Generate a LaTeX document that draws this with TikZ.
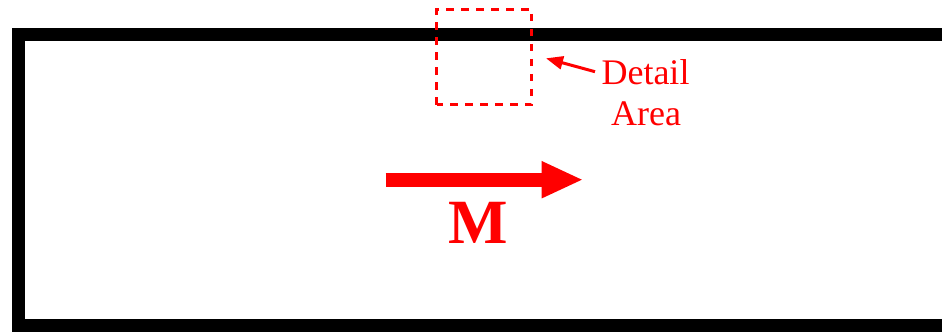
\documentclass[tikz,border=0pt]{standalone}
\usepackage{fontspec}
\setmainfont{Liberation Serif}
\usetikzlibrary{arrows.meta}
\definecolor{pred}{RGB}{255,0,0}
\begin{document}
\begin{tikzpicture}[x=1pt,y=-1pt,
  frame/.style={line width=13pt,draw=black,line join=miter},
  detailbox/.style={draw=pred,line width=3.3pt,dash pattern=on 7.5pt off 7.5pt},
  lbl/.style={text=pred,inner sep=0pt,anchor=base,font=\fontsize{36}{41}\selectfont},
  bigarrow/.style={draw=pred,line width=14pt,-{Triangle[length=41.6pt,width=34pt]}},
  smallarrow/.style={draw=pred,line width=3pt,-{Triangle[length=17pt,width=13pt]}}]
\useasboundingbox (0,0) rectangle (942,332);
\clip (0,0) rectangle (942,332);
\fill[white] (0,0) rectangle (942,332);
% frame
\draw[frame] (960,34.7) -- (18.5,34.7) -- (18.5,325.5) -- (960,325.5);
% detail area box
\draw[detailbox] (436.7,104.7) -- (436.7,9.3) -- (531.7,9.3) -- (531.7,104.7) -- cycle;
% labels
\node[lbl] (detail) at (645.5,84.3) {Detail};
\node[lbl] (area) at (646,125) {Area};
\coordinate (stail) at (595,71.7);
\coordinate (stip) at (546,58.3);
\draw[smallarrow] (stail) -- (stip);
% big arrow
\coordinate (mtail) at (385.7,179.7);
\coordinate (mtip) at (583.3,179.7);
\draw[bigarrow] (mtail) -- (mtip);
\node[text=pred,inner sep=0pt,anchor=base,font=\fontsize{63}{70}\selectfont\bfseries] (M) at (478.5,243.3) {M};
\end{tikzpicture}
\end{document}
